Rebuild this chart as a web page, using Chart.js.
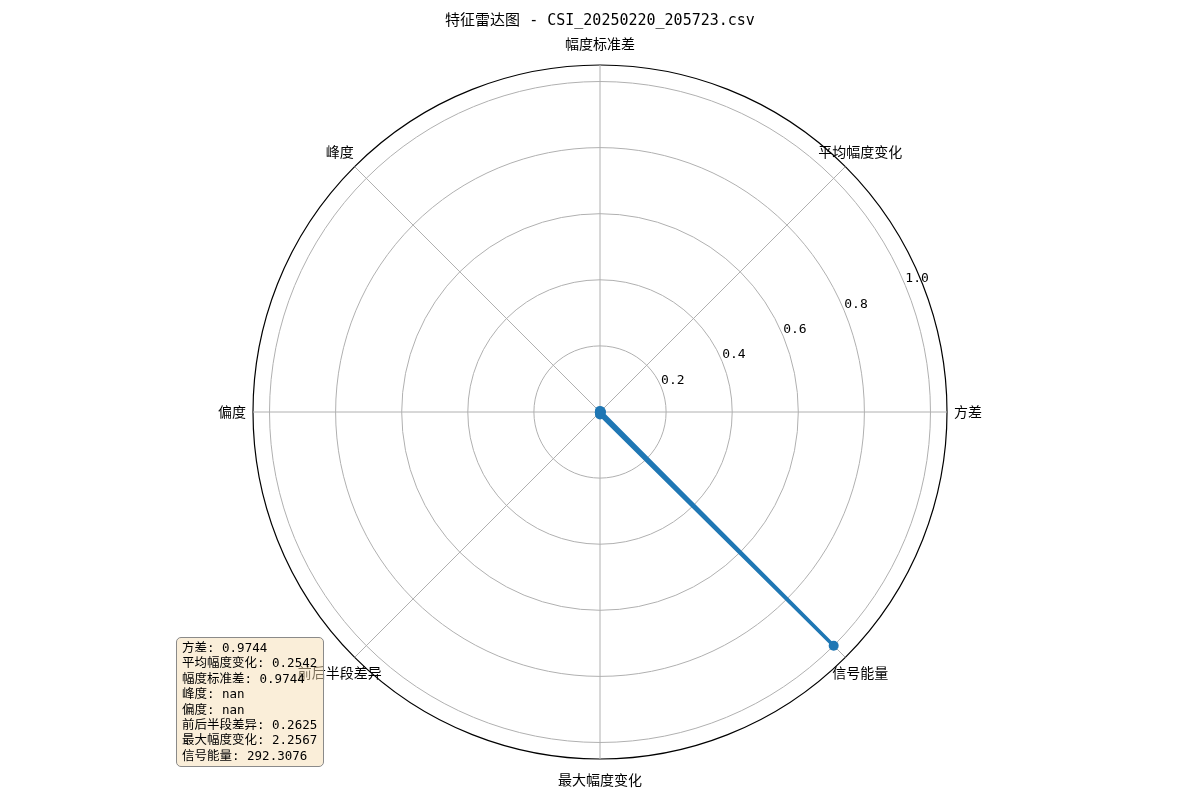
<!DOCTYPE html>
<html>
<head>
<meta charset="utf-8">
<script src="https://cdn.jsdelivr.net/npm/chart.js@4/dist/chart.umd.min.js"></script>
<style>
  html, body { margin: 0; padding: 0; background: #ffffff; }
  #wrap { position: relative; width: 1200px; height: 800px; }
  #chart { display: block; }
  #info {
    position: absolute; left: 176px; top: 637px; width: 148px; height: 130px;
    box-sizing: border-box; border: 1px solid #8a8a8a; border-radius: 5px;
    background: rgba(245, 222, 179, 0.5);
    padding: 2px 0 0 5px;
    font-family: 'DejaVu Sans Mono', 'Noto Sans CJK SC', monospace;
    font-size: 12.5px; line-height: 15.4px; color: #000; white-space: pre;
  }
</style>
</head>
<body>
<div id="wrap">
  <canvas id="chart" width="1200" height="800"></canvas>
  <div id="info"></div>
</div>
<script>
// ---- data (matplotlib order: counter-clockwise starting at east) ----
const categories = ['方差', '平均幅度变化', '幅度标准差', '峰度', '偏度', '前后半段差异', '最大幅度变化', '信号能量'];
const normalizedValues = [0.0033, 0.0009, 0.0033, null, null, 0.0009, 0.0077, 1.0];
const statLabels = ['方差', '平均幅度变化', '幅度标准差', '峰度', '偏度', '前后半段差异', '最大幅度变化', '信号能量'];
const statValues = ['0.9744', '0.2542', '0.9744', 'nan', 'nan', '0.2625', '2.2567', '292.3076'];
const radialTickValues = [0.2, 0.4, 0.6, 0.8, 1.0];
const radialTickLabels = ['0.2', '0.4', '0.6', '0.8', '1.0'];
const radialMax = 1.05;
const chartTitle = '特征雷达图 - CSI_20250220_205723.csv';

// Chart.js radar runs clockwise from the top; matplotlib runs counter-clockwise from the east.
const n = categories.length;
const order = [];
for (let k = 0; k < n; k++) order.push(((2 - k) % n + n) % n);
const displayLabels = order.map(i => categories[i]);
const displayValues = order.map(i => normalizedValues[i]);

document.getElementById('info').textContent =
  statLabels.map((l, i) => l + ': ' + statValues[i]).join('\n');

const FONT = "'DejaVu Sans Mono', 'Noto Sans CJK SC', sans-serif";
const LABEL_FONT = "'Noto Sans CJK SC', 'DejaVu Sans', sans-serif";

const labelPlugin = {
  id: 'polarLabels',
  afterDraw(chart) {
    const scale = chart.scales.r;
    const ctx = chart.ctx;
    ctx.save();
    // category labels
    ctx.fillStyle = '#000';
    ctx.font = '14px ' + LABEL_FONT;
    ctx.textAlign = 'center';
    ctx.textBaseline = 'middle';
    const labelDist = scale.drawingArea + 21;
    displayLabels.forEach((lab, i) => {
      const p = scale.getPointPosition(i, labelDist);
      ctx.fillText(lab, p.x, p.y);
    });
    // radial tick labels along 22.5 degrees
    ctx.font = '13px ' + FONT;
    ctx.textAlign = 'left';
    ctx.textBaseline = 'bottom';
    const ang = 22.5 * Math.PI / 180;
    radialTickValues.forEach((v, i) => {
      const d = scale.getDistanceFromCenterForValue(v);
      const x = scale.xCenter + d * Math.cos(ang);
      const y = scale.yCenter - d * Math.sin(ang);
      ctx.fillText(radialTickLabels[i], x, y);
    });
    ctx.restore();
  }
};

new Chart(document.getElementById('chart'), {
  type: 'radar',
  data: {
    labels: displayLabels,
    datasets: [{
      data: displayValues,
      borderColor: '#1f77b4',
      backgroundColor: 'rgba(0,0,0,0)',
      borderWidth: 3.5,
      fill: false,
      spanGaps: false,
      tension: 0,
      pointRadius: 5,
      pointHoverRadius: 5,
      pointBackgroundColor: '#1f77b4',
      pointBorderColor: '#1f77b4',
      pointBorderWidth: 0
    }]
  },
  options: {
    responsive: false,
    animation: false,
    events: [],
    layout: { padding: { top: 0, bottom: 41, left: 0, right: 0 } },
    plugins: {
      legend: { display: false },
      tooltip: { enabled: false },
      title: {
        display: true,
        text: chartTitle,
        color: '#000',
        font: { family: FONT, size: 15, weight: 'normal', lineHeight: 1.2 },
        padding: { top: 12, bottom: 35 }
      }
    },
    scales: {
      r: {
        min: 0,
        max: radialMax,
        startAngle: 0,
        afterBuildTicks(scale) {
          scale.ticks = [0].concat(radialTickValues, [radialMax]).map(v => ({ value: v }));
        },
        ticks: { display: false },
        pointLabels: { display: false },
        grid: {
          circular: true,
          color: (c) => (c.tick && c.tick.value >= radialMax - 1e-9) ? '#000000' : '#b0b0b0',
          lineWidth: (c) => (c.tick && c.tick.value >= radialMax - 1e-9) ? 1.2 : 1
        },
        angleLines: { display: true, color: '#b0b0b0', lineWidth: 1 }
      }
    }
  },
  plugins: [labelPlugin]
});
</script>
</body>
</html>
